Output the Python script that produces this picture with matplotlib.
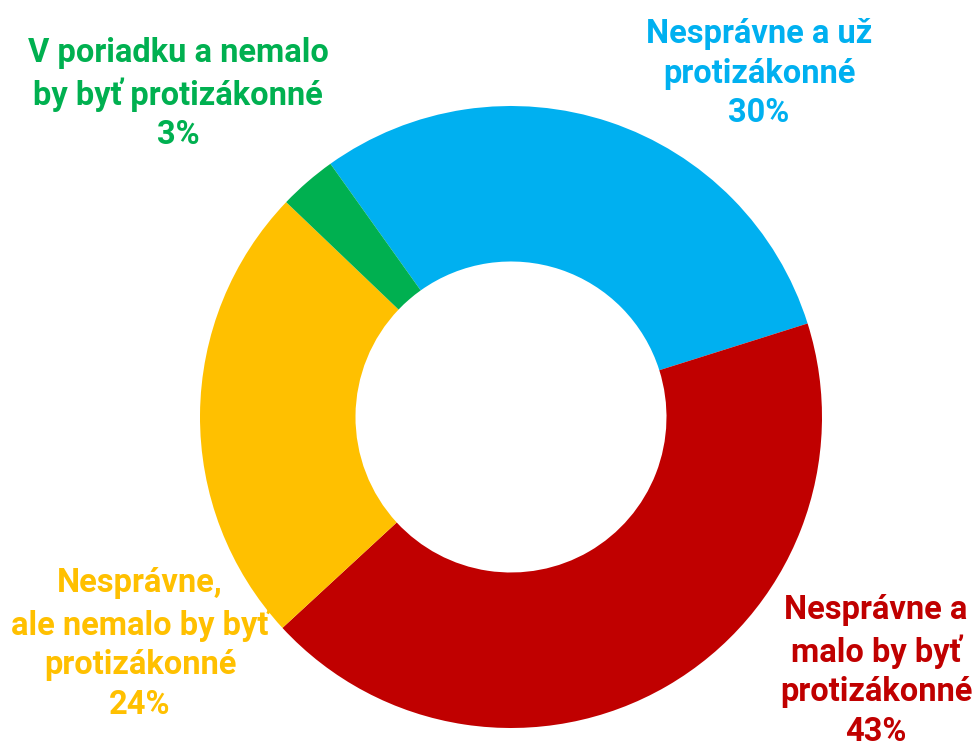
import matplotlib.pyplot as plt

# Data
labels = ['Nesprávne a už\nprotizákonné',
          'Nesprávne a\nmalo by byť\nprotizákonné',
          'Nesprávne,\nale nemalo by byť\nprotizákonné',
          'V poriadku a nemalo\nby byť protizákonné']
values = [30, 43, 24, 3]
colors = ['#00B0F0', '#C00000', '#FFC000', '#00B050']

plt.rcParams['font.family'] = ['Roboto', 'Liberation Sans', 'DejaVu Sans']

fig = plt.figure(figsize=(9.74, 7.48), dpi=100)
ax = fig.add_axes([200 / 974, 20 / 748, 622 / 974, 622 / 748])
ax.pie(values, colors=colors, startangle=125.5, counterclock=False,
       wedgeprops=dict(width=0.5, linewidth=0))
ax.set_xlim(-1, 1)
ax.set_ylim(-1, 1)
ax.set_aspect('equal')

# label positions in figure pixels (centre of text block)
label_pos = [(759, 74), (876, 671), (140, 644), (178, 94)]
for lab, val, col, (px, py) in zip(labels, values, colors, label_pos):
    fig.text(px / 974, 1 - py / 748, f'{lab}\n{val}%', color=col,
             fontsize=23.5, fontweight='bold', ha='center', va='center',
             linespacing=1.3)

plt.savefig('out.png', dpi=100)
